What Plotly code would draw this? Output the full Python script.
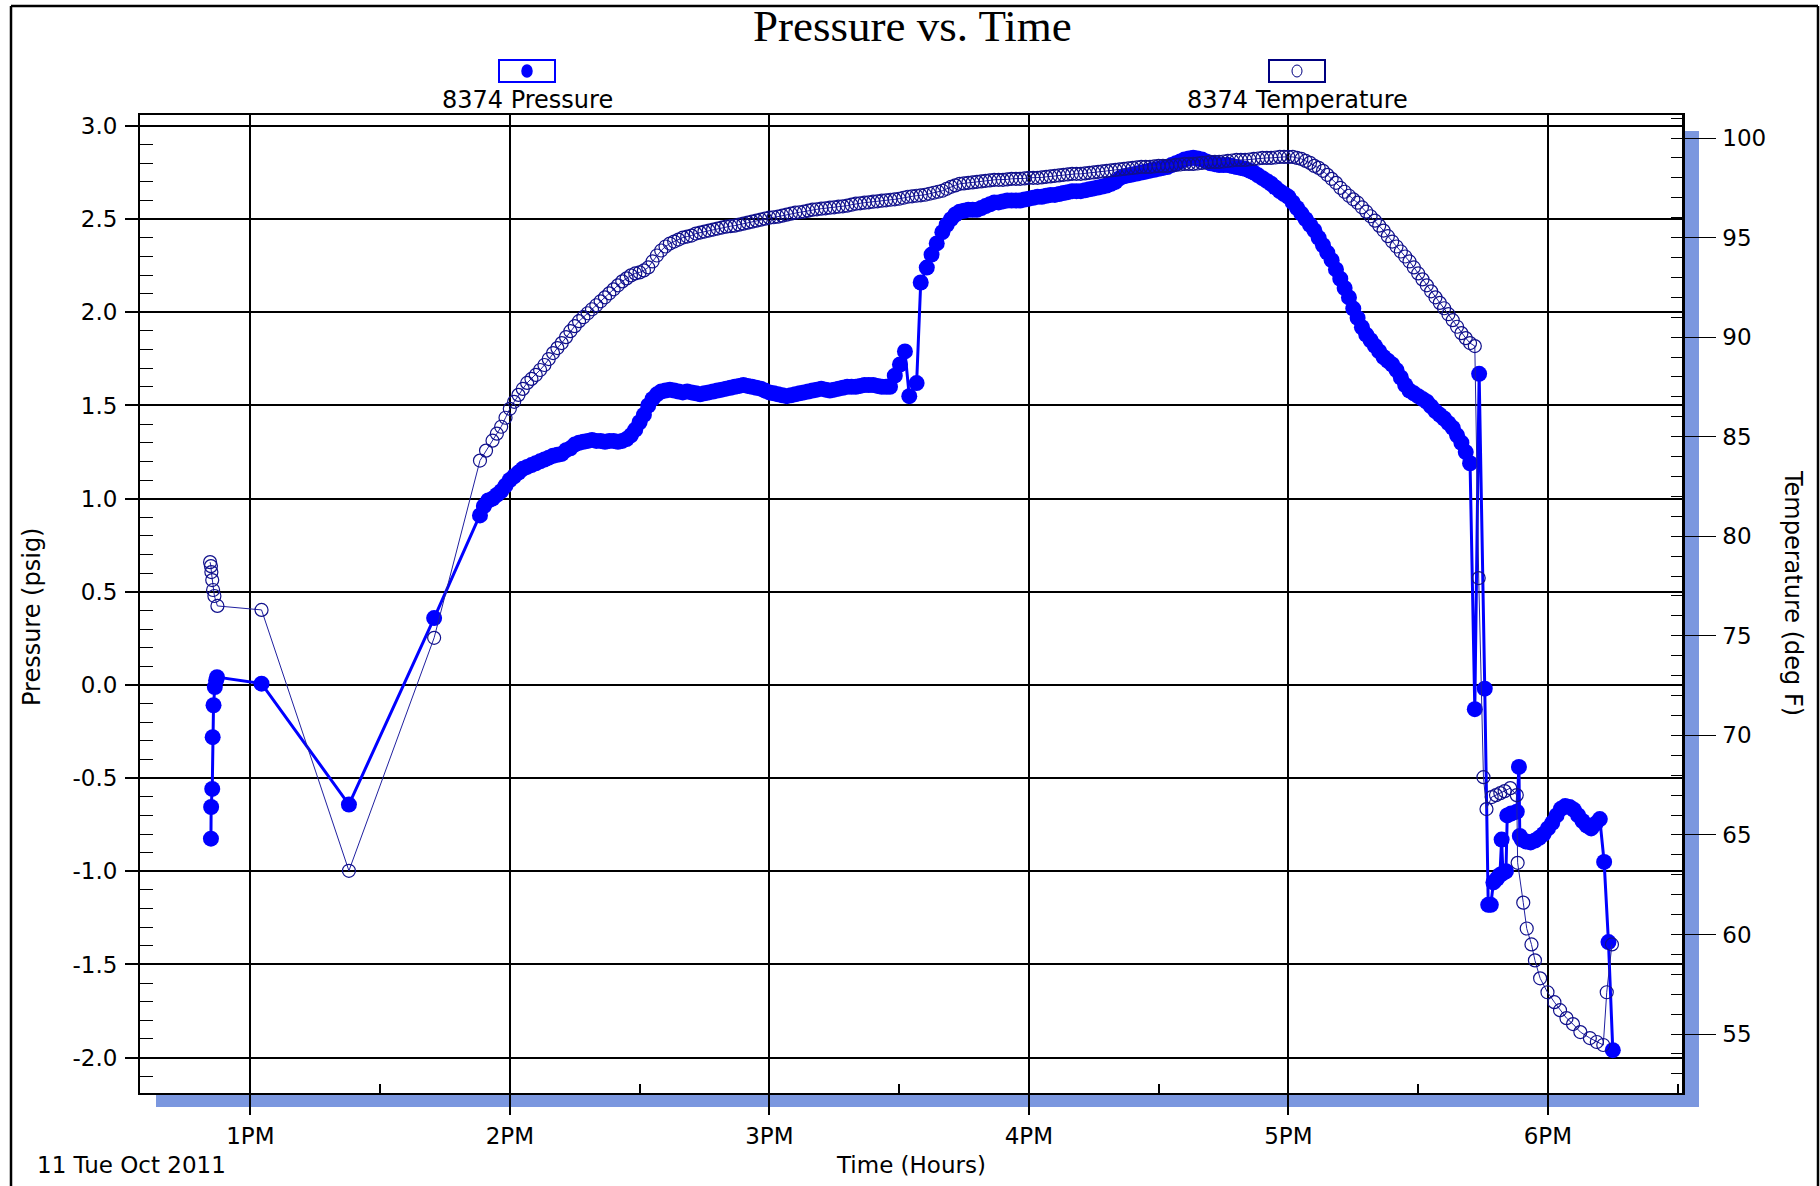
import plotly.graph_objects as go
import pandas as pd

# ---------------- data (minutes after 12:00 on 11 Oct 2011) ----------------
press_min = [
    50.9, 50.95, 51.2, 51.3, 51.5, 51.8, 52.1, 52.3, 62.6, 82.8, 102.5, 113.1, 114, 115,
    116, 117, 118, 119, 120, 121, 122, 123, 124, 125,
    126, 127, 128, 129, 130, 131, 132, 133, 134, 135,
    136, 137, 138, 139, 140, 141, 142, 143, 144, 145,
    146, 147, 148, 149, 150, 151, 152, 153, 154, 155,
    156, 157, 158, 159, 160, 161, 162, 163, 164, 165,
    166, 167, 168, 169, 170, 171, 172, 173, 174, 175,
    176, 177, 178, 179, 180, 181, 182, 183, 184, 185,
    186, 187, 188, 189, 190, 191, 192, 193, 194, 195,
    196, 197, 198, 199, 200, 201, 202, 203, 204, 205,
    206, 207,
    207.9, 209.0, 210.2, 211.35, 212.35, 214.05, 215.0, 216.4, 217.5, 218.7, 220,
    221, 222, 223, 224, 225, 226, 227, 228, 229, 230,
    231, 232, 233, 234, 235, 236, 237, 238, 239, 240,
    241, 242, 243, 244, 245, 246, 247, 248, 249, 250,
    251, 252, 253, 254, 255, 256, 257, 258, 259, 260,
    261, 262, 263, 264, 265, 266, 267, 268, 269, 270,
    271, 272, 273, 274, 275, 276, 277, 278, 279, 280,
    281, 282, 283, 284, 285, 286, 287, 288, 289, 290,
    291, 292, 293, 294, 295, 296, 297, 298, 299, 300,
    301, 302, 303, 304, 305, 306, 307, 308, 309, 310,
    311, 312, 313, 314, 315, 316, 317, 318, 319, 320,
    321, 322, 323, 324, 325, 326, 327, 328, 329, 330,
    331, 332, 333, 334, 335, 336, 337, 338, 339, 340,
    341, 342,
    343.1, 344.1, 345.4, 346.2, 346.8, 347.4, 348.2, 348.9, 349.3, 349.6,
    350.3, 350.6, 351.5, 352.8, 353.3, 353.5,
    354, 355, 356, 357, 358, 359, 360, 361, 362, 363,
    364, 365, 366, 367, 368, 369, 370, 371, 372,
    373.0, 374.0, 375.0]
press_val = [
    -0.825, -0.655, -0.558, -0.28, -0.109, -0.011, 0.025, 0.042, 0.007, -0.642, 0.359, 0.91, 0.96, 0.99,
    1.00, 1.02, 1.04, 1.07, 1.10, 1.12, 1.14, 1.16, 1.17, 1.18,
    1.19, 1.20, 1.21, 1.22, 1.23, 1.235, 1.24, 1.26, 1.27, 1.29,
    1.30, 1.305, 1.31, 1.315, 1.31, 1.31, 1.305, 1.31, 1.31, 1.305,
    1.31, 1.32, 1.34, 1.37, 1.41, 1.45, 1.50, 1.535, 1.56, 1.575,
    1.58, 1.585, 1.58, 1.575, 1.57, 1.575, 1.57, 1.565, 1.56, 1.565,
    1.57, 1.575, 1.58, 1.585, 1.59, 1.595, 1.60, 1.605, 1.61, 1.605,
    1.60, 1.595, 1.59, 1.58, 1.57, 1.565, 1.56, 1.555, 1.55, 1.555,
    1.56, 1.565, 1.57, 1.575, 1.58, 1.585, 1.59, 1.585, 1.58, 1.585,
    1.59, 1.595, 1.60, 1.60, 1.60, 1.605, 1.61, 1.61, 1.61, 1.605,
    1.60, 1.60,
    1.60, 1.66, 1.72, 1.79, 1.55, 1.62, 2.16, 2.24, 2.31, 2.37, 2.43,
    2.47, 2.50, 2.525, 2.54, 2.545, 2.55, 2.55, 2.55, 2.56, 2.57,
    2.58, 2.59, 2.59, 2.595, 2.60, 2.60, 2.60, 2.60, 2.605, 2.61,
    2.615, 2.62, 2.62, 2.625, 2.63, 2.63, 2.635, 2.64, 2.645, 2.65,
    2.65, 2.65, 2.655, 2.66, 2.665, 2.67, 2.675, 2.68, 2.69, 2.70,
    2.72, 2.73, 2.735, 2.74, 2.745, 2.75, 2.755, 2.76, 2.765, 2.77,
    2.775, 2.78, 2.79, 2.80, 2.81, 2.82, 2.825, 2.83, 2.825, 2.82,
    2.81, 2.80, 2.795, 2.79, 2.79, 2.79, 2.785, 2.78, 2.775, 2.77,
    2.76, 2.75, 2.735, 2.72, 2.705, 2.69, 2.67, 2.65, 2.635, 2.62,
    2.59, 2.56, 2.53, 2.50, 2.47, 2.44, 2.40, 2.36, 2.32, 2.28,
    2.23, 2.18, 2.13, 2.08, 2.02, 1.97, 1.92, 1.88, 1.85, 1.82,
    1.79, 1.76, 1.74, 1.72, 1.69, 1.65, 1.61, 1.58, 1.565, 1.55,
    1.535, 1.52, 1.495, 1.47, 1.45, 1.43, 1.405, 1.38, 1.34, 1.30,
    1.25, 1.19,
    -0.13, 1.67, -0.02, -1.18, -1.18, -1.06, -1.04, -1.02, -0.83, -1.01,
    -1.00, -0.70, -0.69, -0.68, -0.44, -0.81,
    -0.83, -0.84, -0.845, -0.835, -0.82, -0.80, -0.77, -0.74, -0.70, -0.665,
    -0.65, -0.655, -0.67, -0.70, -0.73, -0.755, -0.77, -0.745, -0.72,
    -0.95, -1.38, -1.96]

temp_min = [
    50.7, 50.9, 51.0, 51.2, 51.4, 51.7, 52.4, 62.6, 82.8, 102.5, 113.1, 114.5,
    116, 117, 118, 119, 120, 121, 122, 123, 124, 125,
    126, 127, 128, 129, 130, 131, 132, 133, 134, 135,
    136, 137, 138, 139, 140, 141, 142, 143, 144, 145,
    146, 147, 148, 149, 150, 151, 152, 153, 154, 155,
    156, 157, 158, 159, 160, 161, 162, 163, 164, 165,
    166, 167, 168, 169, 170, 171, 172, 173, 174, 175,
    176, 177, 178, 179, 180, 181, 182, 183, 184, 185,
    186, 187, 188, 189, 190, 191, 192, 193, 194, 195,
    196, 197, 198, 199, 200, 201, 202, 203, 204, 205,
    206, 207, 208, 209, 210, 211, 212, 213, 214, 215,
    216, 217, 218, 219, 220, 221, 222, 223, 224, 225,
    226, 227, 228, 229, 230, 231, 232, 233, 234, 235,
    236, 237, 238, 239, 240, 241, 242, 243, 244, 245,
    246, 247, 248, 249, 250, 251, 252, 253, 254, 255,
    256, 257, 258, 259, 260, 261, 262, 263, 264, 265,
    266, 267, 268, 269, 270, 271, 272, 273, 274, 275,
    276, 277, 278, 279, 280, 281, 282, 283, 284, 285,
    286, 287, 288, 289, 290, 291, 292, 293, 294, 295,
    296, 297, 298, 299, 300, 301, 302, 303, 304, 305,
    306, 307, 308, 309, 310, 311, 312, 313, 314, 315,
    316, 317, 318, 319, 320, 321, 322, 323, 324, 325,
    326, 327, 328, 329, 330, 331, 332, 333, 334, 335,
    336, 337, 338, 339, 340, 341, 342,
    343.1, 344.0, 345.1, 345.8, 347.0, 348.0, 349.0, 350.0, 351.3, 352.8,
    353.0, 354.3, 355.1, 356.2, 357.0, 358.2, 359.9, 361.5, 362.8, 364.3,
    365.8, 367.5, 369.7, 371.3, 372.8, 373.6, 374.8]
temp_val = [
    78.7, 78.5, 78.2, 77.8, 77.3, 77.0, 76.5, 76.3, 63.2, 74.9, 83.8, 84.3,
    84.8, 85.15, 85.5, 85.95, 86.4, 86.75, 87.1, 87.4, 87.7, 87.9,
    88.1, 88.35, 88.6, 88.9, 89.2, 89.45, 89.7, 90.0, 90.3, 90.55,
    90.8, 91.0, 91.2, 91.4, 91.6, 91.8, 92.0, 92.2, 92.4, 92.6,
    92.8, 92.95, 93.1, 93.2, 93.25, 93.35, 93.5, 93.8, 94.1, 94.35,
    94.55, 94.7, 94.8, 94.9, 95.0, 95.05, 95.1, 95.2, 95.25, 95.3,
    95.35, 95.4, 95.45, 95.5, 95.55, 95.57, 95.6, 95.65, 95.7, 95.75,
    95.8, 95.85, 95.9, 95.95, 96.0, 96.02, 96.05, 96.1, 96.15, 96.2,
    96.25, 96.27, 96.3, 96.35, 96.4, 96.42, 96.45, 96.47, 96.5, 96.52,
    96.55, 96.57, 96.6, 96.65, 96.7, 96.72, 96.75, 96.77, 96.8, 96.82,
    96.85, 96.87, 96.9, 96.92, 96.95, 97.0, 97.05, 97.07, 97.1, 97.12,
    97.15, 97.2, 97.25, 97.3, 97.35, 97.45, 97.55, 97.62, 97.7, 97.72,
    97.75, 97.77, 97.8, 97.82, 97.85, 97.87, 97.9, 97.9, 97.9, 97.92,
    97.95, 97.95, 97.95, 97.97, 98.0, 98.0, 98.0, 98.02, 98.05, 98.07,
    98.1, 98.12, 98.15, 98.17, 98.2, 98.2, 98.2, 98.22, 98.25, 98.27,
    98.3, 98.32, 98.35, 98.37, 98.4, 98.42, 98.45, 98.47, 98.5, 98.52,
    98.55, 98.55, 98.55, 98.57, 98.6, 98.6, 98.6, 98.62, 98.65, 98.67,
    98.7, 98.7, 98.7, 98.72, 98.75, 98.77, 98.8, 98.8, 98.8, 98.82,
    98.85, 98.87, 98.9, 98.9, 98.9, 98.92, 98.95, 98.97, 99.0, 99.0,
    99.0, 99.02, 99.05, 99.05, 99.05, 99.05, 99.0, 98.95, 98.85, 98.75,
    98.6, 98.5, 98.35, 98.15, 97.95, 97.75, 97.5, 97.3, 97.1, 96.92,
    96.75, 96.52, 96.3, 96.07, 95.85, 95.6, 95.35, 95.07, 94.8, 94.55,
    94.3, 94.05, 93.8, 93.5, 93.2, 92.9, 92.6, 92.3, 92.0, 91.72,
    91.45, 91.15, 90.85, 90.52, 90.2, 89.95, 89.7,
    89.55, 77.9, 67.9, 66.3, 66.9, 67.0, 67.1, 67.2, 67.35, 67.0,
    63.6, 61.6, 60.3, 59.5, 58.7, 57.8, 57.1, 56.6, 56.2, 55.8,
    55.5, 55.1, 54.8, 54.6, 54.45, 57.1, 59.5]

y_tick_vals = [-2.0, -1.5, -1.0, -0.5, 0.0, 0.5, 1.0, 1.5, 2.0, 2.5, 3.0]
y_tick_labels = ["-2.0", "-1.5", "-1.0", "-0.5", "0.0", "0.5", "1.0", "1.5", "2.0", "2.5", "3.0"]
series_names = ["8374 Pressure", "8374 Temperature"]

# ---------------- helpers ----------------
BASE = pd.Timestamp("2011-10-11 12:00:00")


def to_time(mins):
    return [BASE + pd.Timedelta(minutes=m) for m in mins]


W, H = 1820, 1186
L, R, T, B = 140, 1682, 115, 1093  # plot-area box in pixels


def px(x):
    return (x - L) / (R - L)


def py(y):
    return (B - y) / (B - T)


FONT = "DejaVu Sans"
PCOL = "#0000ff"
TCOL = "#10108c"

fig = go.Figure()
fig.add_trace(go.Scatter(
    x=to_time(press_min), y=press_val, mode="lines+markers", name=series_names[0],
    line=dict(color=PCOL, width=3), marker=dict(size=16, color=PCOL),
    showlegend=False))
fig.add_trace(go.Scatter(
    x=to_time(temp_min), y=temp_val, yaxis="y2", mode="lines+markers", name=series_names[1],
    line=dict(color="#2020a0", width=1),
    marker=dict(symbol="circle-open", size=13, color=TCOL, line=dict(width=1.2)),
    showlegend=False))

shapes = []
SH = "#7b97df"
shapes.append(dict(type="rect", xref="paper", yref="paper", layer="below",
                   x0=px(R), x1=px(R + 17), y0=py(B + 14), y1=py(T + 16),
                   fillcolor=SH, line=dict(width=0)))
shapes.append(dict(type="rect", xref="paper", yref="paper", layer="below",
                   x0=px(L + 16), x1=px(R + 17), y0=py(B + 14), y1=py(B),
                   fillcolor=SH, line=dict(width=0)))
for (x0, y0, x1, y1) in [(11, 6, 1818, 6), (11, 6, 11, 1190), (1818, 6, 1818, 1190)]:
    shapes.append(dict(type="line", xref="paper", yref="paper",
                       x0=px(x0), y0=py(y0), x1=px(x1), y1=py(y1),
                       line=dict(color="black", width=2.5)))
for cx, col, filled in [(527, PCOL, True), (1297, "#000080", False)]:
    shapes.append(dict(type="rect", xref="paper", yref="paper",
                       x0=px(cx - 28), x1=px(cx + 28), y0=py(82), y1=py(60),
                       line=dict(color=col, width=2), fillcolor="white"))
    shapes.append(dict(type="circle", xref="paper", yref="paper",
                       x0=px(cx - 5), x1=px(cx + 5), y0=py(77), y1=py(65),
                       line=dict(color=col, width=1.5 if filled else 1),
                       fillcolor=col if filled else "white"))

annotations = [
    dict(text="Pressure vs. Time", x=px(912), y=py(26), xref="paper", yref="paper",
         showarrow=False, xanchor="center", yanchor="middle",
         font=dict(family="Liberation Serif", size=45, color="black")),
    dict(text=series_names[0], x=px(527), y=py(100), xref="paper", yref="paper",
         showarrow=False, xanchor="center", yanchor="middle",
         font=dict(family=FONT, size=24, color="black")),
    dict(text=series_names[1], x=px(1297), y=py(100), xref="paper", yref="paper",
         showarrow=False, xanchor="center", yanchor="middle",
         font=dict(family=FONT, size=24, color="black")),
    dict(text="Pressure (psig)", x=px(32), y=py(617), xref="paper", yref="paper",
         showarrow=False, xanchor="center", yanchor="middle", textangle=-90,
         font=dict(family=FONT, size=24, color="black")),
    dict(text="Temperature (deg F)", x=px(1793), y=py(593), xref="paper", yref="paper",
         showarrow=False, xanchor="center", yanchor="middle", textangle=90,
         font=dict(family=FONT, size=24, color="black")),
    dict(text="Time (Hours)", x=px(911), y=py(1165), xref="paper", yref="paper",
         showarrow=False, xanchor="center", yanchor="middle",
         font=dict(family=FONT, size=23, color="black")),
    dict(text="11 Tue Oct 2011", x=px(35), y=py(1165), xref="paper", yref="paper",
         showarrow=False, xanchor="left", yanchor="middle",
         font=dict(family=FONT, size=23, color="black")),
]

fig.update_layout(
    width=W, height=H, autosize=False,
    margin=dict(l=L, r=W - R, t=T, b=H - B, pad=0),
    paper_bgcolor="white", plot_bgcolor="white",
    font=dict(family=FONT, size=23, color="black"),
    showlegend=False,
    shapes=shapes, annotations=annotations,
    xaxis=dict(
        type="date",
        range=["2011-10-11 12:34:30", "2011-10-11 18:31:00"],
        tick0="2011-10-11 13:00:00", dtick=3600000, tickformat="%-I%p",
        showgrid=True, gridcolor="black", gridwidth=2,
        ticks="outside", ticklen=20, tickwidth=2, tickcolor="black",
        showline=True, linewidth=2, linecolor="black", mirror=True,
        zeroline=False, ticklabelstandoff=1,
        tickfont=dict(family=FONT, size=23, color="black"),
        minor=dict(ticks="inside", ticklen=9, tickwidth=1.5, tickcolor="black",
                   dtick=1800000, tick0="2011-10-11 13:00:00", showgrid=False),
    ),
    yaxis=dict(
        range=[-2.19, 3.059],
        tickmode="array", tickvals=y_tick_vals, ticktext=y_tick_labels,
        showgrid=True, gridcolor="black", gridwidth=1.5,
        ticks="outside", ticklen=13, tickwidth=1.5, tickcolor="black",
        showline=True, linewidth=2, linecolor="black",
        zeroline=False, ticklabelstandoff=3,
        tickfont=dict(family=FONT, size=23, color="black"),
        minor=dict(ticks="inside", ticklen=13, tickwidth=1.2, tickcolor="black",
                   dtick=0.1, tick0=0, showgrid=False),
    ),
    yaxis2=dict(
        overlaying="y", side="right",
        range=[52.04, 101.155],
        tick0=0, dtick=5,
        showgrid=False,
        ticks="outside", ticklen=31, tickwidth=1.2, tickcolor="black",
        showline=True, linewidth=2.5, linecolor="black",
        zeroline=False, ticklabelstandoff=2,
        tickfont=dict(family=FONT, size=23, color="black"),
        minor=dict(ticks="inside", ticklen=11, tickwidth=1.2, tickcolor="black",
                   dtick=1, tick0=0, showgrid=False),
    ),
)

fig.write_html("out.html",
               config={"displayModeBar": False},
               post_script="document.body.style.margin='0';document.body.style.overflow='hidden';")
